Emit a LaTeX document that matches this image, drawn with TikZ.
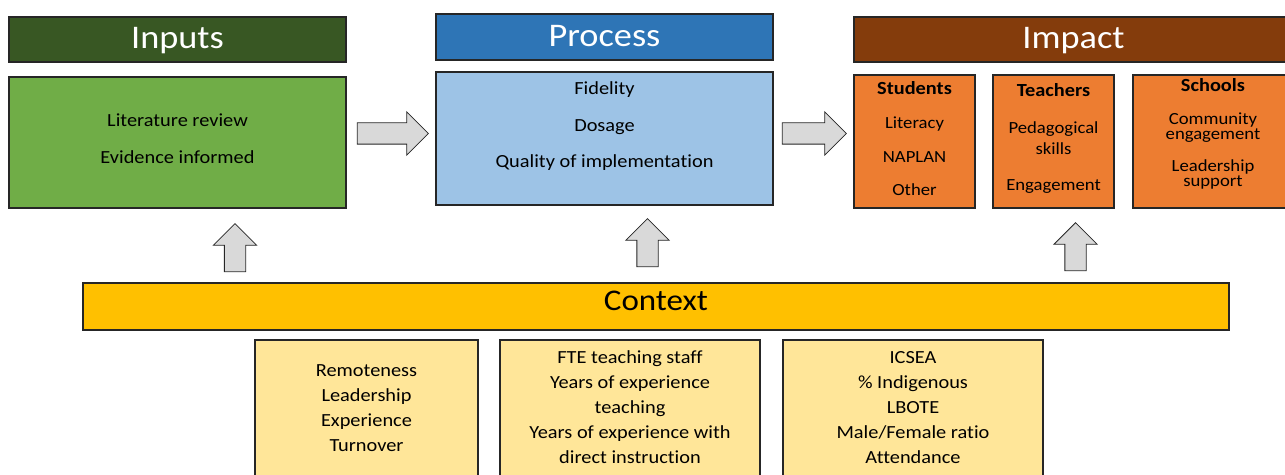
\documentclass[tikz,border=0pt]{standalone}
\usepackage{fontspec}
\setmainfont[FakeStretch=1.1, Ligatures=NoCommon]{Carlito}
\usepackage{tikz}
\definecolor{inputdark}{RGB}{56,87,35}
\definecolor{inputgreen}{RGB}{112,173,71}
\definecolor{processblue}{RGB}{46,117,182}
\definecolor{processlight}{RGB}{157,195,230}
\definecolor{impactbrown}{RGB}{132,60,12}
\definecolor{impactorange}{RGB}{237,125,49}
\definecolor{contextgold}{RGB}{255,192,0}
\definecolor{factorsand}{RGB}{255,230,153}
\definecolor{arrowgrey}{RGB}{217,217,217}
\usetikzlibrary{shapes.arrows}
\newcommand{\tightlines}{\lineskiplimit=-10pt\relax}
\newcommand{\boxtitle}[1]{{\fontsize{18.5}{21}\selectfont\bfseries #1}}

\begin{document}
\begin{tikzpicture}[x=1pt,y=1pt,
    panel/.style={draw=black!85, line width=1.2pt, inner sep=0pt},
    header/.style={panel, text=white, text height=24pt, text depth=5pt,
        font=\fontsize{33}{36}\selectfont},
    body/.style={align=center, inner sep=0pt, anchor=base},
    fatarrow/.style={single arrow, draw=black!85, line width=0.8pt, fill=arrowgrey,
        inner sep=0pt, text height=20.5pt, text depth=0pt, single arrow head extend=11pt}
]
\clip (0,0) rectangle (1285,474);

\node[header, fill=inputdark, minimum width=337pt, minimum height=45pt] (inhead) at (177.5,434.5) {Inputs};
\node[panel, fill=inputgreen, minimum width=337pt, minimum height=131pt] (inbox) at (177.5,331.5) {};
\node[body, font=\fontsize{18.5}{37}\selectfont] (intext) at (177.5,310) {Literature review\\Evidence informed};

\node[header, fill=processblue, minimum width=337pt, minimum height=46pt] (prhead) at (604.5,437) {Process};
\node[panel, fill=processlight, minimum width=337pt, minimum height=133pt] (prbox) at (604.5,335.5) {};
\node[body, font=\fontsize{18.5}{36.5}\selectfont] (prtext) at (604.5,306) {Fidelity\\Dosage\\Quality of implementation};

\node[header, fill=impactbrown, minimum width=439pt, minimum height=45pt] (imhead) at (1073.5,434.5) {Impact};
\node[panel, fill=impactorange, minimum width=121pt, minimum height=133pt] (students) at (914.5,332.5) {};
\node[panel, fill=impactorange, minimum width=121pt, minimum height=133pt] (teachers) at (1053.5,332.5) {};
\node[panel, fill=impactorange, minimum width=160pt, minimum height=133pt] (schools) at (1213,332.5) {};
\node[body, font=\fontsize{17}{33.7}\selectfont] (stutext) at (914.5,278) {\boxtitle{Students}\\Literacy\\NAPLAN\\Other};
\node[body, font=\fontsize{17}{21}\selectfont] (teatext) at (1053.5,283) {\boxtitle{Teachers}\\[16pt]Pedagogical\\skills\\[15pt]Engagement};
\node[body, font=\fontsize{17}{15}\selectfont\tightlines] (schtext) at (1213,287) {\boxtitle{Schools}\\[18pt]Community\\engagement\\[17pt]Leadership\\support};

\node[panel, fill=contextgold, minimum width=1146pt, minimum height=47pt, text height=19pt, text depth=10pt,
    font=\fontsize{30}{34}\selectfont] (context) at (656,167.5) {Context};

\node[panel, fill=factorsand, minimum width=223pt, minimum height=140pt] (school) at (366.5,64) {};
\node[panel, fill=factorsand, minimum width=260pt, minimum height=140pt] (staff) at (630,64) {};
\node[panel, fill=factorsand, minimum width=260pt, minimum height=140pt] (pupils) at (913,64) {};
\node[body, font=\fontsize{18.5}{25}\selectfont] (schooltext) at (366.5,22.3) {Remoteness\\Leadership\\Experience\\Turnover};
\node[body, font=\fontsize{18.5}{25}\selectfont] (stafftext) at (630,11) {FTE teaching staff\\Years of experience\\teaching\\Years of experience with\\direct instruction};
\node[body, font=\fontsize{18.5}{25}\selectfont] (pupiltext) at (913,11) {ICSEA\\\% Indigenous\\LBOTE\\Male/Female ratio\\Attendance};

\node[fatarrow, minimum height=71pt] (inpr) at (387.5,340.5) {};
\node[fatarrow, minimum height=64pt] (prim) at (809,340.5) {};
\node[fatarrow, minimum height=48pt, rotate=90] (ctxin) at (235,221) {};
\node[fatarrow, minimum height=48pt, rotate=90] (ctxpr) at (647.5,226) {};
\node[fatarrow, minimum height=48pt, rotate=90] (ctxim) at (1075.5,222) {};
\end{tikzpicture}
\end{document}
